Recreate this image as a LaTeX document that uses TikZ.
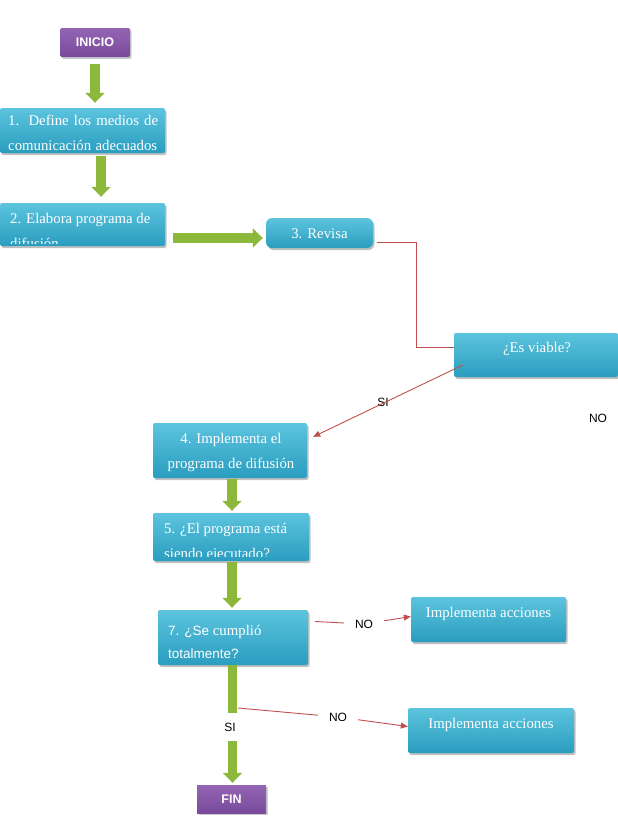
\documentclass[tikz,border=0pt]{standalone}
\usepackage{fontspec}
\setmainfont{Liberation Serif}
\newfontfamily\arialf{Liberation Sans}
\usetikzlibrary{arrows.meta,shadows,calc}
\definecolor{cyanT}{HTML}{5CC4DE}
\definecolor{cyanB}{HTML}{2A9DBF}
\definecolor{purT}{HTML}{9565B5}
\definecolor{purB}{HTML}{7A4A9A}
\definecolor{grn}{HTML}{8CB83C}
\definecolor{redl}{HTML}{C0504D}
\begin{document}
\begin{tikzpicture}[x=1pt,y=-1pt,
  cbox/.style={rectangle, rounded corners=2pt, inner sep=0pt, top color=cyanT, bottom color=cyanB,
    drop shadow={shadow xshift=1.5pt, shadow yshift=-2pt, opacity=0.5}},
  pbox/.style={rectangle, rounded corners=1.5pt, inner sep=0pt, top color=purT, bottom color=purB,
    text=white, font=\arialf\bfseries\fontsize{12.5}{14}\selectfont,
    drop shadow={shadow xshift=1.5pt, shadow yshift=-2pt, opacity=0.4}},
  txt/.style={text=white, inner sep=0pt, font=\fontsize{14.8}{18}\selectfont},
  atxt/.style={text=black, font=\arialf\fontsize{12}{14}\selectfont, inner sep=1pt},
  garrow/.style={draw=grn, line width=9.5pt, -{Triangle[width=19pt,length=10pt]}},
  redline/.style={draw=redl, line width=0.9pt},
  redarrow/.style={redline, -{Triangle[width=6pt,length=7pt]}}
]
\useasboundingbox (0,0) rectangle (618,819);

% boxes
\node[pbox, minimum width=70pt, minimum height=29pt] (ini) at (95,42.5) {INICIO};
\node[cbox, minimum width=165pt, minimum height=45pt] (b1) at (82.5,130.5) {};
\node[cbox, minimum width=165pt, minimum height=43pt] (b2) at (82.5,224.5) {};
\node[cbox, rounded corners=6pt, minimum width=107pt, minimum height=30pt] (b3) at (319.5,233) {};
\node[cbox, minimum width=164pt, minimum height=44pt] (bv) at (536,355) {};
\node[cbox, minimum width=154pt, minimum height=55pt] (b4) at (230,450.5) {};
\node[cbox, minimum width=156pt, minimum height=48pt] (b5) at (231,537) {};
\node[cbox, minimum width=150pt, minimum height=55pt] (b7) at (233,637.5) {};
\node[cbox, minimum width=155pt, minimum height=45pt] (ia1) at (488.5,619.5) {};
\node[cbox, minimum width=166pt, minimum height=45pt] (ia2) at (491,730.5) {};
\node[pbox, rounded corners=0pt, minimum width=69pt, minimum height=28pt] (fin) at (231.5,799) {FIN};

% box texts
\node[txt, anchor=base west] (b1l1) at (8,125) {\makebox[150pt][s]{1. Define los medios de}};
\begin{scope}
  \clip (b1.north west) rectangle ([yshift=1pt]b1.south east);
  \node[txt, anchor=base west] (b1l2) at (8,150) {\makebox[149pt][s]{comunicación adecuados}};
\end{scope}
\node[txt, anchor=base west] (b2l1) at (10,223) {2. Elabora programa de};
\begin{scope}
  \clip (b2.north west) rectangle ([yshift=3pt]b2.south east);
  \node[txt, anchor=base west] (b2l2) at (10,248) {difusión};
\end{scope}
\node[txt, anchor=base] (b3t) at (319.5,238) {3. Revisa};
\node[txt, anchor=base] (bvt) at (537,352) {¿Es viable?};
\node[txt, anchor=base] (b4l1) at (231,443) {4. Implementa el};
\node[txt, anchor=base] (b4l2) at (231,468) {programa de difusión};
\node[txt, anchor=base west] (b5l1) at (164,533) {5. ¿El programa está};
\begin{scope}
  \clip (b5.north west) rectangle ([yshift=5pt]b5.south east);
  \node[txt, anchor=base west] (b5l2) at (164,558) {siendo ejecutado?};
\end{scope}
\node[txt, anchor=base west] (b7l1) at (168,635) {{\arialf\fontsize{13.5}{16}\selectfont 7. ¿Se} cumplió};
\node[txt, anchor=base west] (b7l2) at (168,658) {\arialf\fontsize{13.5}{16}\selectfont totalmente?};
\node[txt, anchor=base] (ia1t) at (488.5,617) {Implementa acciones};
\node[txt, anchor=base] (ia2t) at (491,728) {Implementa acciones};

% green arrows
\draw[garrow] ([yshift=-7pt]ini.south) -- ($(ini.south |- b1.north)+(0,-5)$);
\draw[garrow] ($(b1.south)+(18.5,3)$) -- ($(b2.north)+(18.5,-6)$);
\draw[garrow] ($(b2.east |- b3.west)+(8,5)$) -- ($(b3.west)+(-3,5)$);
\draw[garrow] ($(b4.south)+(2,1)$) -- ($(b5.north)+(1,-2)$);
\draw[garrow] ($(b5.south)+(1,1)$) -- ($(b7.north)+(-1,-2)$);
\draw[garrow] ($(b7.south)+(-0.5,0)$) -- ($(fin.north)+(1,-2)$);

% labels
\node[atxt] (si1) at (383,402) {SI};
\node[atxt] (no0) at (598,418) {NO};
\node[atxt, inner xsep=11pt] (no1) at (364,624) {NO};
\node[atxt, inner xsep=11pt] (no2) at (338,717) {NO};
\node[atxt, fill=white, minimum width=16pt, minimum height=28pt] (si2) at (230,727) {SI};

% red connectors
\draw[redline] ($(b3.east)+(4,9)$) -| ($(bv.west)+(-37,-8)$) -- ($(bv.west)+(0,-8)$);
\draw[redarrow] ($(bv.west)+(9,10)$) -- ($(b4.north east)+(6,14)$);
\draw[redline] ($(b7.east)+(7,-16)$) -- (no1);
\draw[redarrow] (no1) -- ($(ia1.west)+(0,-3)$);
\coordinate (s2) at (238,708);
\draw[redline] (s2) -- (no2);
\draw[redarrow] (no2) -- ($(ia2.west)+(0,-4)$);
\end{tikzpicture}
\end{document}
